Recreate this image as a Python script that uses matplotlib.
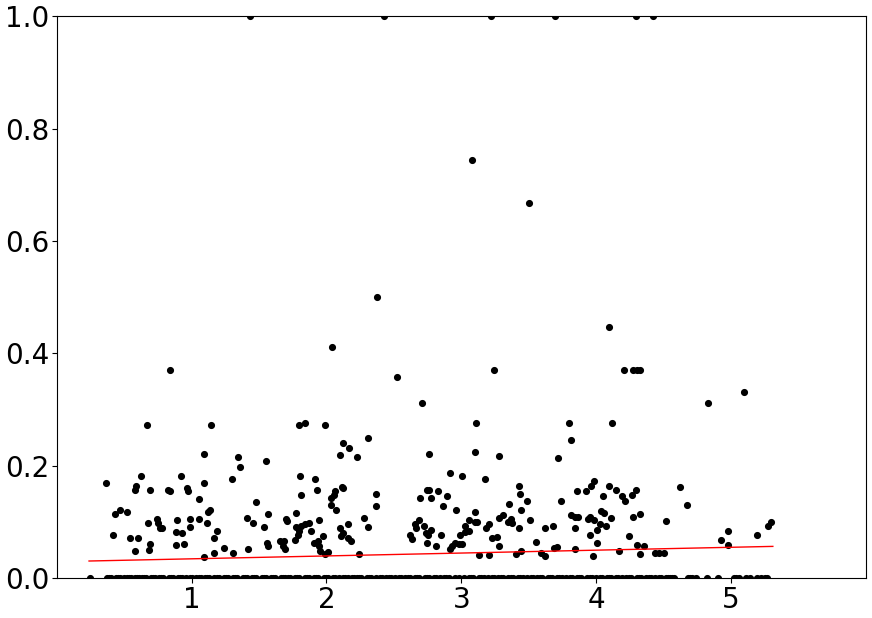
import numpy as np
import matplotlib
matplotlib.use("Agg")
import matplotlib.pyplot as plt

# points with non-zero values
pt_x = [1.436, 2.426, 3.217, 3.698, 4.297, 4.42,
        3.077, 3.505, 2.375, 4.097, 2.042, 0.837, 3.24, 4.21, 4.276, 4.30, 4.326,
        2.52, 5.097, 4.829, 2.712,
        # around x = 0.3 .. 1.6
        0.667, 1.146, 1.096, 1.347, 1.357, 1.554, 0.623, 0.922, 0.367, 1.089, 1.30,
        0.589, 0.579, 0.690, 0.825, 0.837, 0.965, 0.973, 1.057, 1.480, 0.470, 0.433,
        0.524, 1.138, 1.123, 0.741, 0.894, 0.988, 1.052, 1.411, 0.680, 0.751, 0.764,
        0.778, 1.116, 1.458, 1.564, 0.421, 0.542, 0.601, 0.882, 0.926, 0.988, 1.185,
        1.168, 1.534, 0.692, 0.884, 0.943, 0.579, 0.682, 1.242, 1.163, 1.310, 1.421,
        1.096, 1.559, 1.564,
        # around x = 1.6 .. 3.1
        1.798, 1.840, 1.990, 2.121, 2.170, 2.099, 2.225, 2.308, 2.757, 2.917, 3.008,
        1.803, 1.919, 1.931, 1.811, 2.118, 2.123, 2.064, 2.055, 2.032, 2.035, 2.069,
        2.367, 2.370, 2.693, 2.749, 2.764, 2.779, 2.826, 2.897, 2.868, 2.959, 1.774,
        1.704, 1.707, 1.774, 1.815, 1.840, 1.870, 1.948, 1.796, 1.882, 1.769, 1.786,
        1.971, 1.911, 1.936, 1.944, 1.956, 1.993, 2.015, 2.101, 2.158, 2.121, 2.106,
        2.163, 2.183, 2.281, 2.306, 2.239, 1.653, 1.687, 1.675, 1.693, 2.688, 2.658,
        2.665, 2.722, 2.774, 2.739, 2.754, 2.744, 2.619, 2.633, 2.848, 2.809, 2.917,
        2.934, 2.951, 2.981, 3.005, 2.988, 3.030, 3.030, 3.057, 3.057,
        # around x = 3.1 .. 4.5
        3.111, 3.799, 4.117, 3.811, 3.101, 3.277, 3.715, 3.178, 3.429, 3.437, 3.441,
        3.486, 3.353, 3.740, 3.858, 3.927, 3.959, 3.984, 4.050, 4.097, 4.146, 4.195,
        4.215, 4.265, 4.297, 4.326, 4.272, 3.101, 3.099, 3.116, 3.279, 3.308, 3.343,
        3.365, 3.375, 3.186, 3.202, 3.426, 3.511, 3.225, 3.262, 3.279, 3.129, 3.205,
        3.407, 3.441, 3.557, 3.589, 3.619, 3.621, 3.683, 3.685, 3.710, 3.816, 3.840,
        3.862, 3.840, 3.846, 3.942, 3.954, 3.984, 3.954, 4.003, 4.030, 4.035, 4.060,
        4.072, 4.112, 4.006, 3.979, 4.169, 4.240, 4.304, 4.326, 4.355, 4.439, 4.469,
        4.505, 4.518,
        # around x = 4.6 .. 5.3
        4.622, 4.676, 4.927, 4.976, 4.976, 5.193, 5.272, 5.299]

pt_y = [1.0, 1.0, 1.0, 1.0, 1.0, 1.0,
        0.744, 0.667, 0.500, 0.447, 0.411, 0.370, 0.370, 0.370, 0.370, 0.370, 0.370,
        0.358, 0.332, 0.312, 0.312,
        0.273, 0.273, 0.222, 0.216, 0.198, 0.208, 0.183, 0.183, 0.169, 0.169, 0.177,
        0.164, 0.158, 0.158, 0.158, 0.156, 0.161, 0.156, 0.141, 0.136, 0.122, 0.115,
        0.119, 0.122, 0.119, 0.106, 0.104, 0.106, 0.106, 0.107, 0.098, 0.098, 0.089,
        0.089, 0.099, 0.099, 0.115, 0.078, 0.072, 0.072, 0.082, 0.081, 0.091, 0.085,
        0.072, 0.091, 0.062, 0.059, 0.061, 0.049, 0.051, 0.055, 0.046, 0.046, 0.052,
        0.038, 0.063, 0.057,
        0.273, 0.276, 0.273, 0.241, 0.232, 0.219, 0.216, 0.249, 0.222, 0.188, 0.183,
        0.183, 0.176, 0.158, 0.149, 0.163, 0.160, 0.155, 0.149, 0.143, 0.130, 0.122,
        0.150, 0.128, 0.143, 0.158, 0.157, 0.143, 0.156, 0.146, 0.128, 0.122, 0.117,
        0.106, 0.103, 0.091, 0.093, 0.096, 0.098, 0.104, 0.084, 0.084, 0.069, 0.077,
        0.076, 0.063, 0.066, 0.057, 0.049, 0.043, 0.047, 0.089, 0.096, 0.080, 0.076,
        0.072, 0.066, 0.108, 0.091, 0.044, 0.066, 0.066, 0.057, 0.052, 0.104, 0.096,
        0.090, 0.093, 0.087, 0.081, 0.077, 0.063, 0.077, 0.071, 0.078, 0.057, 0.052,
        0.057, 0.063, 0.061, 0.061, 0.078, 0.082, 0.093, 0.104, 0.085,
        0.276, 0.276, 0.276, 0.246, 0.225, 0.217, 0.215, 0.177, 0.164, 0.150, 0.122,
        0.137, 0.133, 0.137, 0.156, 0.156, 0.164, 0.174, 0.146, 0.164, 0.158, 0.146,
        0.138, 0.149, 0.158, 0.114, 0.109, 0.119, 0.100, 0.101, 0.107, 0.113, 0.101,
        0.105, 0.099, 0.089, 0.096, 0.090, 0.104, 0.072, 0.073, 0.058, 0.041, 0.042,
        0.043, 0.048, 0.064, 0.046, 0.040, 0.089, 0.094, 0.055, 0.056, 0.113, 0.109,
        0.109, 0.090, 0.052, 0.106, 0.109, 0.104, 0.078, 0.087, 0.096, 0.120, 0.117,
        0.093, 0.107, 0.063, 0.040, 0.049, 0.075, 0.059, 0.043, 0.057, 0.046, 0.046,
        0.046, 0.103,
        0.163, 0.130, 0.068, 0.084, 0.060, 0.077, 0.093, 0.100]

# points sitting on zero
zero_x = [0.25, 0.37, 0.40, 0.44, 0.47, 0.50, 0.52, 0.55, 0.58, 0.61, 0.63, 0.66,
          0.70, 0.73, 0.76, 0.79, 0.83, 0.86, 0.90, 0.93, 0.96, 1.00, 1.03, 1.07,
          1.10, 1.13, 1.17, 1.20, 1.24, 1.27, 1.31, 1.34, 1.38, 1.41, 1.45, 1.48,
          1.52, 1.55, 1.59, 1.62, 1.66, 1.69, 1.73, 1.77, 1.80, 1.84, 1.87, 1.91,
          1.94, 1.98, 2.01, 2.05, 2.09, 2.12, 2.16, 2.19, 2.23, 2.26, 2.30, 2.33,
          2.37, 2.41, 2.44, 2.48, 2.51, 2.55, 2.58, 2.62, 2.66, 2.69, 2.73, 2.76,
          2.80, 2.84, 2.87, 2.91, 2.95, 3.02, 3.06, 3.09, 3.13, 3.17, 3.20, 3.24,
          3.27, 3.31, 3.35, 3.38, 3.42, 3.46, 3.49, 3.53, 3.56, 3.60, 3.64, 3.67,
          3.71, 3.75, 3.78, 3.82, 3.86, 3.89, 3.93, 3.97, 4.00, 4.04, 4.08, 4.11,
          4.15, 4.19, 4.22, 4.26, 4.30, 4.33, 4.37, 4.41, 4.44, 4.48, 4.52, 4.55,
          4.58, 4.68, 4.71, 4.74, 4.82, 4.90, 5.02, 5.06, 5.11, 5.14, 5.19, 5.25,
          5.27,
          0.385, 0.455, 0.535, 0.595, 0.645, 0.715, 0.775, 0.845, 0.915, 0.985,
          1.055, 1.115, 1.185, 1.255, 1.325, 1.395, 1.465, 1.535, 1.605, 1.675,
          1.715, 1.785, 1.855, 1.925, 1.995, 2.065, 2.135, 2.205, 2.245, 2.315,
          2.395, 2.465, 2.535, 2.605, 2.675, 2.745, 2.815, 2.885, 2.985, 3.075,
          3.145, 3.225, 3.295, 3.365, 3.435, 3.515, 3.585, 3.655, 3.725, 3.805,
          3.875, 3.955, 4.025, 4.095, 4.165, 4.245, 4.315, 4.395, 4.465, 4.535,
          4.565, 4.695, 5.04, 5.225]

# fitted trend line end points
line_x = [0.24, 5.31]
line_y = [0.031, 0.057]

all_x = np.array(pt_x + zero_x)
all_y = np.array(pt_y + [0.0] * len(zero_x))

fig = plt.figure(figsize=(8.72, 6.18), dpi=100)
ax = fig.add_axes([0.065, 0.064, 0.928, 0.910])

ax.scatter(all_x, all_y, s=17, c="black", zorder=2)
ax.plot(line_x, line_y, color="red", linewidth=1, zorder=3)

ax.set_xlim(0, 6)
ax.set_ylim(0, 1.0)
ax.set_xticks([1, 2, 3, 4, 5])
ax.set_yticks([0.0, 0.2, 0.4, 0.6, 0.8, 1.0])
ax.tick_params(labelsize=20, pad=2)

plt.savefig("out.png", dpi=100)
